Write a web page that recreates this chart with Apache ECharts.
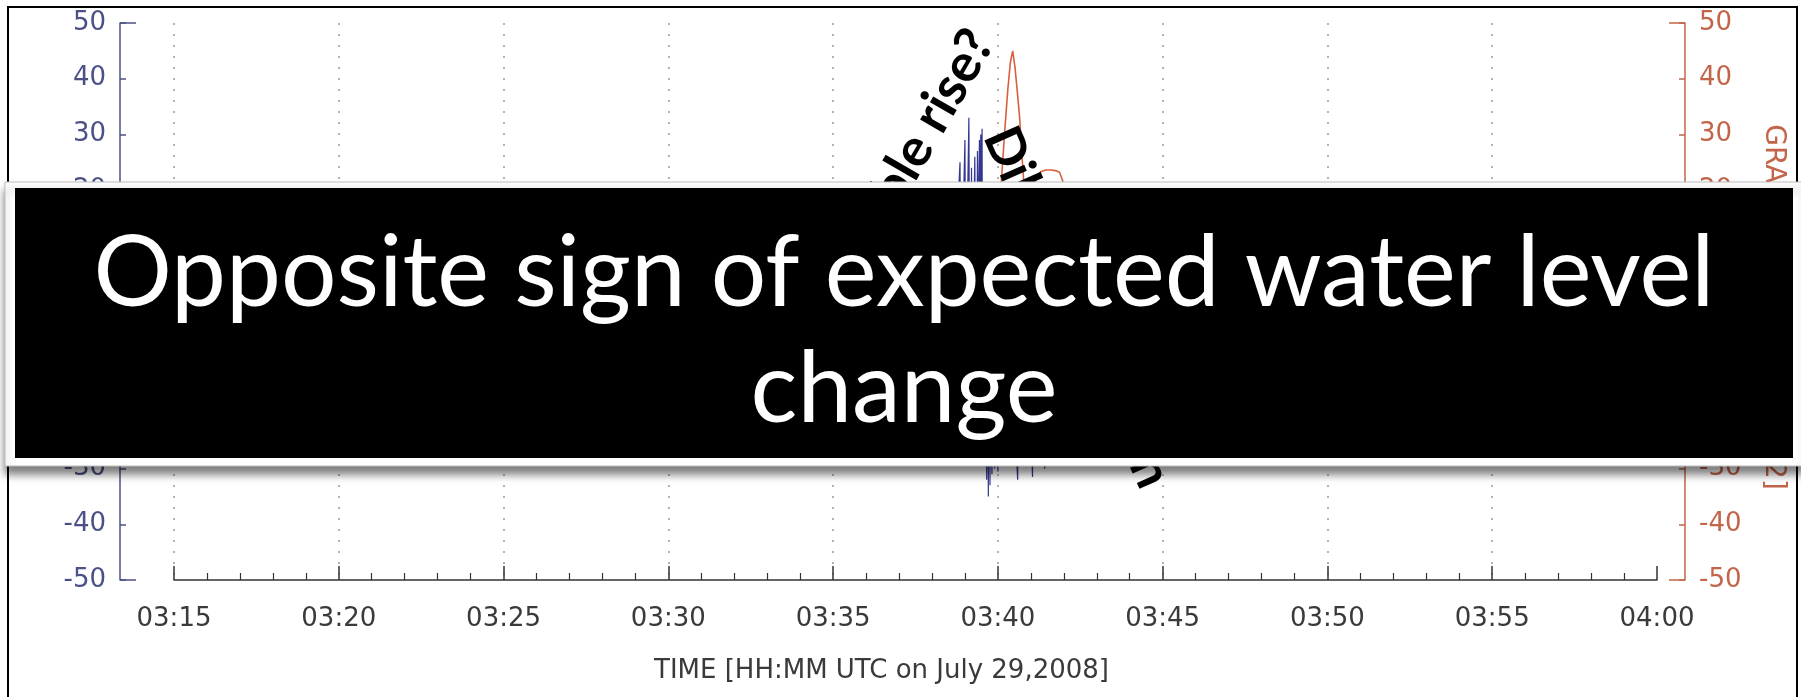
<!DOCTYPE html>
<html>
<head>
<meta charset="utf-8">
<title>Water level and gravity, July 29 2008</title>
<script src="https://cdn.jsdelivr.net/npm/echarts@6/dist/echarts.min.js"></script>
<style>
  html, body { margin: 0; padding: 0; background: #fff; }
  #chart { width: 1801px; height: 697px; }
</style>
</head>
<body>
<div id="chart"></div>
<script>
// times are minutes after 00:00 UTC (195 = 03:15, 240 = 04:00)
const timeLabels = ['03:15', '03:20', '03:25', '03:30', '03:35', '03:40', '03:45', '03:50', '03:55', '04:00']

// blue trace, left axis
const blueTime = [195, 200, 205, 210, 215, 217.5, 218.0, 218.3, 218.5, 218.6, 218.7, 218.78, 218.85,
  218.9, 218.95, 219.0, 219.04, 219.08, 219.12, 219.16, 219.2, 219.24, 219.28, 219.3, 219.34,
  219.38, 219.41, 219.44, 219.46, 219.48, 219.5, 219.52, 219.54, 219.56, 219.6, 219.63, 219.66,
  219.68, 219.71, 219.73, 219.76, 219.78, 219.82, 219.85, 219.9, 219.95, 220.0, 220.05, 220.1,
  220.2, 220.3, 220.4, 220.5, 220.6, 220.65, 220.8, 220.9, 221.05, 221.1, 221.25, 221.42, 221.5,
  221.7, 222, 222.5, 223, 225, 230, 235, 240]
const blueValue = [0, 0.3, -0.2, 0.2, -0.3, 0.5, -2, 5, -8, 12, -15, 16, 25,
  -18, 16, 29, -22, 18, 33, -24, 24, -20, 18, 26, -22,
  27, 12, 29, 14, 30, 18, 31, -20, 19, -24, 16, -32,
  12, -35, 10, -33, 8, -31, 6, -30, 5, -30.5, 4, -28,
  6, -22, 5, -20, -32, 3, -18, 4, -31.5, 3, -15, -30, 2,
  -8, 3, -2, 1, 0, 0, 0, 0]

// red trace, right axis
const redTime = [195, 198, 201, 204, 207, 210, 213, 216, 218, 219, 219.5, 219.8, 219.95, 220.05,
  220.11, 220.2, 220.3, 220.38, 220.45, 220.52, 220.6, 220.66, 220.72, 220.78, 220.85, 220.92,
  221.02, 221.15, 221.3, 221.45, 221.6, 221.75, 221.87, 221.96, 222.05, 222.2, 222.4, 222.6,
  222.8, 223.1, 223.5, 224, 225, 227, 230, 234, 237, 240]
const redValue = [0.5, -0.5, 0.3, 0.8, -0.4, 0.2, -0.6, 0.4, 1, 2, 3, 5, 9, 16,
  22, 30, 38, 43, 45, 42, 37, 33, 27, 22, 17, 15,
  19, 22, 23.3, 23.6, 23.6, 23.5, 23.2, 21.8, 18, 12, 8, 11,
  9, 6, 4, 3, 2, 1, 0.5, 0.3, -0.2, 0]

const blueColor = '#4c5185'
const redColor = '#c2654a'
const zip = (a, b) => a.map((t, i) => [t, b[i]])

const chart = echarts.init(document.getElementById('chart'))

chart.setOption({
  animation: false,
  backgroundColor: '#fff',
  grid: { left: 174, right: 144, top: 23, bottom: 117 },
  xAxis: {
    type: 'value',
    min: 195,
    max: 240,
    interval: 5,
    axisLine: { onZero: false, lineStyle: { color: '#333', width: 1.5 } },
    axisTick: { inside: true, length: 14, lineStyle: { color: '#333', width: 1.5 } },
    minorTick: { show: true, splitNumber: 5, length: 7, lineStyle: { color: '#333', width: 1.2 } },
    axisLabel: {
      margin: 26,
      color: '#3a3a3a',
      fontSize: 26,
      fontFamily: 'DejaVu Sans',
      formatter: v => timeLabels[Math.round((v - 195) / 5)]
    },
    splitLine: { show: true, showMaxLine: false, lineStyle: { color: '#9a9a9a', type: [2, 9], width: 1.5 } },
    name: 'TIME [HH:MM UTC on July 29,2008]',
    nameLocation: 'middle',
    nameGap: 78,
    nameTextStyle: { color: '#3a3a3a', fontSize: 26, fontFamily: 'DejaVu Sans', padding: [0, 68, 0, 0] }
  },
  yAxis: [
    {
      type: 'value',
      position: 'left',
      offset: 54,
      min: -50,
      max: 50,
      interval: 10,
      axisLine: { show: true, onZero: false, lineStyle: { color: blueColor, width: 1.5 } },
      axisTick: { show: true, inside: true, length: 6, lineStyle: { color: blueColor, width: 1.5 } },
      axisLabel: { color: blueColor, fontSize: 26, fontFamily: 'DejaVu Sans', margin: 14 },
      splitLine: { show: false }
    },
    {
      type: 'value',
      position: 'right',
      offset: 28,
      min: -50,
      max: 50,
      interval: 10,
      axisLine: { show: true, onZero: false, lineStyle: { color: redColor, width: 1.5 } },
      axisTick: { show: true, inside: true, length: 6, lineStyle: { color: redColor, width: 1.5 } },
      axisLabel: { color: redColor, fontSize: 26, fontFamily: 'DejaVu Sans', margin: 14 },
      splitLine: { show: false },
      name: 'GRAVITY CHANGE [nm/s2]',
      nameLocation: 'middle',
      nameRotate: -90,
      nameGap: 74,
      nameTextStyle: { color: redColor, fontSize: 28, fontFamily: 'DejaVu Sans', padding: [0, 0, 0, 11] }
    },
    // end ticks of the left axis (the bracket corners)
    {
      type: 'value', position: 'left', offset: 54, min: -50, max: 50, interval: 100,
      axisLine: { show: false, onZero: false },
      axisTick: { show: true, inside: true, length: 16, lineStyle: { color: blueColor, width: 1.5 } },
      axisLabel: { show: false },
      splitLine: { show: false }
    },
    // end ticks of the right axis
    {
      type: 'value', position: 'right', offset: 28, min: -50, max: 50, interval: 100,
      axisLine: { show: false, onZero: false },
      axisTick: { show: true, inside: true, length: 16, lineStyle: { color: redColor, width: 1.5 } },
      axisLabel: { show: false },
      splitLine: { show: false }
    }
  ],
  series: [
    {
      name: 'water level',
      type: 'line',
      yAxisIndex: 0,
      showSymbol: false,
      data: zip(blueTime, blueValue),
      lineStyle: { color: '#33378f', width: 1.2 }
    },
    {
      name: 'gravity',
      type: 'line',
      yAxisIndex: 1,
      showSymbol: false,
      data: zip(redTime, redValue),
      lineStyle: { color: '#d9603f', width: 1.6 }
    }
  ],
  graphic: [
    {
      type: 'rect', z: 1, silent: true,
      shape: { x: 8, y: 7, width: 1789, height: 720 },
      style: { fill: 'none', stroke: '#000', lineWidth: 2 }
    },
    {
      type: 'text', z: 50, x: 981, y: 34, rotation: 60 * Math.PI / 180,
      style: {
        text: 'Water table rise?', font: 'bold 53px Lato', fill: '#000',
        align: 'right', textAlign: 'right', verticalAlign: 'middle', textVerticalAlign: 'middle'
      }
    },
    {
      type: 'text', z: 50, x: 998, y: 130, rotation: -66 * Math.PI / 180,
      style: {
        text: 'Dilatation region', font: 'bold 52px Lato', fill: '#000',
        align: 'left', textAlign: 'left', verticalAlign: 'middle', textVerticalAlign: 'middle'
      }
    },
    {
      type: 'rect', z: 100,
      shape: { x: 5, y: 182, width: 1800, height: 284 },
      style: {
        fill: '#fff', stroke: '#bdbdbd', lineWidth: 1,
        shadowBlur: 8, shadowOffsetY: 8, shadowColor: 'rgba(0,0,0,0.5)'
      }
    },
    {
      type: 'rect', z: 101,
      shape: { x: 15, y: 188, width: 1778, height: 270 },
      style: { fill: '#000' }
    },
    {
      type: 'text', z: 102, x: 904, y: 274,
      style: {
        text: 'Opposite sign of expected water level', font: '98px Lato', fill: '#fff',
        align: 'center', textAlign: 'center', verticalAlign: 'middle', textVerticalAlign: 'middle'
      }
    },
    {
      type: 'text', z: 102, x: 904, y: 390,
      style: {
        text: 'change', font: '98px Lato', fill: '#fff',
        align: 'center', textAlign: 'center', verticalAlign: 'middle', textVerticalAlign: 'middle'
      }
    }
  ]
})
</script>
</body>
</html>
